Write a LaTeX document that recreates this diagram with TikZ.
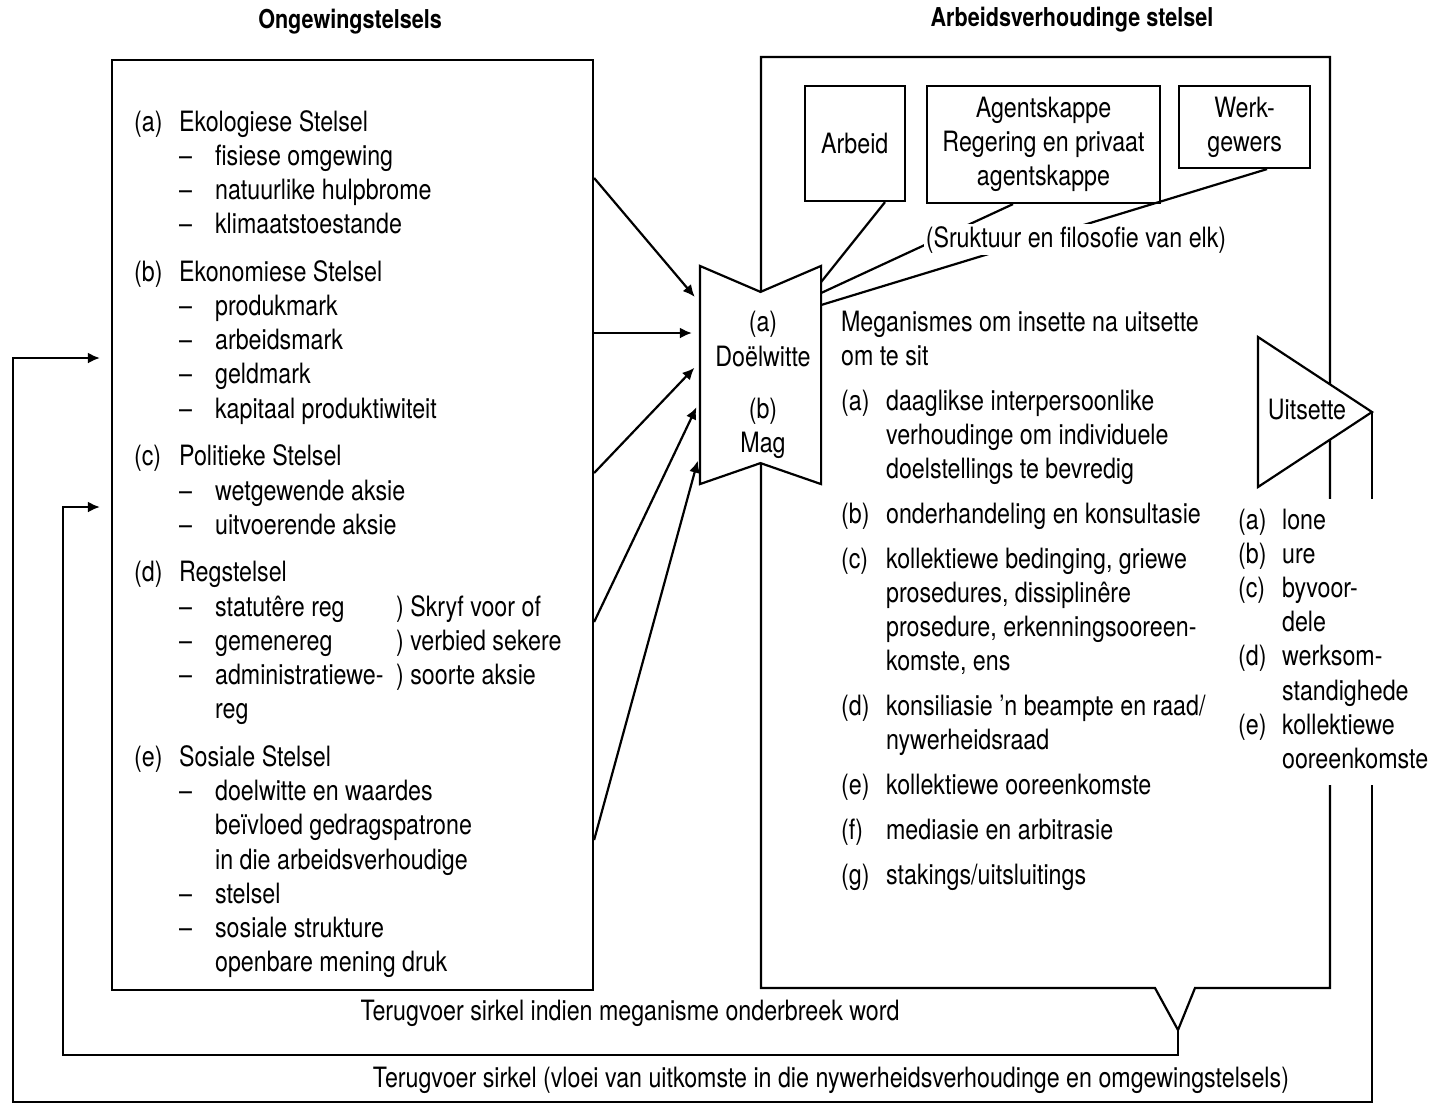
\documentclass[tikz,border=0pt]{standalone}
\usepackage{fontspec}
\setmainfont{TeX Gyre Heros}[FakeStretch=0.83]
\usetikzlibrary{positioning,arrows.meta}

\newcommand{\bodyfont}{\fontsize{14}{17.1}\selectfont}
\newcommand{\headfont}{\fontsize{13}{15}\selectfont\bfseries}

\begin{document}
\begin{tikzpicture}[
		x=0.5pt, y=-0.5pt,
		>={Latex[length=6pt,width=5.5pt]},
		line width=1.1pt,
		box/.style={
			draw,
			inner sep=2pt,
			align=center,
			font=\bodyfont
		},
		txt/.style={inner sep=0pt, align=center, font=\bodyfont},
		list/.style={inner sep=0pt, font=\bodyfont},
		ttl/.style={inner sep=0pt, font=\headfont}
		]
		
		\useasboundingbox (0,0) rectangle (1437,1105);
		
		%--------------------------------------------------
		% Titles
		%--------------------------------------------------
		
		\node[ttl] (envtitle) at (350,22) {Ongewingstelsels};
		\node[ttl] (irtitle) at (1072,20) {Arbeidsverhoudinge stelsel};
		
		%--------------------------------------------------
		% Frames
		%--------------------------------------------------
		
		\node[box, minimum width=240.5pt, minimum height=465pt] (env) at (352.5,525) {};
		
		\draw (761,57) -- (1330,57) -- (1330,988) -- (1195,988)
		-- (1178,1030) coordinate (vtip) -- (1155,988) -- (761,988) -- cycle;
		
		% goals and power
		\node[minimum width=59.5pt, minimum height=108pt, inner sep=0pt] (doel) at (760.5,375) {};
		\draw[fill=white] (doel.north west) -- ([yshift=-13pt]doel.north) -- (doel.north east)
		-- (doel.south east) -- ([yshift=10.5pt]doel.south) -- (doel.south west) -- cycle;
		\node[txt] (goals) at (763,339) {(a)\\Doëlwitte};
		\node[txt] (power) at (763,428) {(b)\\Mag};
		
		% outputs
		\draw[fill=white] (1258,337) -- (1372,412) coordinate (utip) -- (1258,487) -- cycle;
		\node[txt] (uit) at (1307,410) {Uitsette};
		
		%--------------------------------------------------
		% Actors
		%--------------------------------------------------
		
		\node[box, minimum width=116.5pt, minimum height=58.5pt] (agent) at (1043.5,144.5)
		{Agentskappe\\Regering en privaat\\agentskappe};
		
		\node[box, minimum width=50pt, minimum height=57.5pt, left=10pt of agent.north west, anchor=north east] (arbeid)
		{Arbeid};
		
		\node[box, minimum width=65.5pt, minimum height=41pt, right=8.5pt of agent.north east, anchor=north west] (werk)
		{Werk-\\gewers};
		
		\draw (885,0 |- arbeid.south) -- (doel.east |- 0,282);
		\draw (1013,0 |- agent.south) -- (doel.east |- 0,293);
		\draw (1267,0 |- werk.south) -- (doel.east |- 0,305);
		
		\node[txt, fill=white, inner sep=1pt, anchor=base] (philo) at (1076,247)
		{(Sruktuur en filosofie van elk)};
		
		%--------------------------------------------------
		% Environment systems
		%--------------------------------------------------
		
		\node[list, anchor=base west] (eco) at (133,131) {\begin{tabular}[t]{@{}p{22.5pt}@{}p{18pt}@{}l@{}}
				(a) & \multicolumn{2}{@{}l@{}}{Ekologiese Stelsel}\\
				& – & fisiese omgewing\\
				& – & natuurlike hulpbrome\\
				& – & klimaatstoestande
		\end{tabular}};
		
		\node[list, below=5.65pt of eco.south west, anchor=north west] (econ) {\begin{tabular}[t]{@{}p{22.5pt}@{}p{18pt}@{}l@{}}
				(b) & \multicolumn{2}{@{}l@{}}{Ekonomiese Stelsel}\\
				& – & produkmark\\
				& – & arbeidsmark\\
				& – & geldmark\\
				& – & kapitaal produktiwiteit
		\end{tabular}};
		
		\node[list, below=5.65pt of econ.south west, anchor=north west] (pol) {\begin{tabular}[t]{@{}p{22.5pt}@{}p{18pt}@{}l@{}}
				(c) & \multicolumn{2}{@{}l@{}}{Politieke Stelsel}\\
				& – & wetgewende aksie\\
				& – & uitvoerende aksie
		\end{tabular}};
		
		\node[list, below=5.65pt of pol.south west, anchor=north west] (law) {\begin{tabular}[t]{@{}p{22.5pt}@{}p{18pt}@{}l@{}}
				(d) & \multicolumn{2}{@{}l@{}}{Regstelsel}\\
				& – & \makebox[90.5pt][l]{statutêre reg}) Skryf voor of\\
				& – & \makebox[90.5pt][l]{gemenereg}) verbied sekere\\
				& – & \makebox[90.5pt][l]{administratiewe-}) soorte aksie\\
				& & reg
		\end{tabular}};
		
		\node[list, below=5.65pt of law.south west, anchor=north west] (soc) {\begin{tabular}[t]{@{}p{22.5pt}@{}p{18pt}@{}l@{}}
				(e) & \multicolumn{2}{@{}l@{}}{Sosiale Stelsel}\\
				& – & doelwitte en waardes\\
				& & beïvloed gedragspatrone\\
				& & in die arbeidsverhoudige\\
				& – & stelsel\\
				& – & sosiale strukture\\
				& & openbare mening druk
		\end{tabular}};
		
		%--------------------------------------------------
		% Mechanisms
		%--------------------------------------------------
		
		\node[list, anchor=base west] (mech) at (840,331) {\begin{tabular}[t]{@{}p{22.5pt}@{}l@{}}
				\multicolumn{2}{@{}l@{}}{Meganismes om insette na uitsette}\\
				\multicolumn{2}{@{}l@{}}{om te sit}\\[5.3pt]
				(a) & daaglikse interpersoonlike\\
				& verhoudinge om individuele\\
				& doelstellings te bevredig\\[5.3pt]
				(b) & onderhandeling en konsultasie\\[5.3pt]
				(c) & kollektiewe bedinging, griewe\\
				& prosedures, dissiplinêre\\
				& prosedure, erkenningsooreen-\\
				& komste, ens\\[5.3pt]
				(d) & konsiliasie 'n beampte en raad/\\
				& nywerheidsraad\\[5.3pt]
				(e) & kollektiewe ooreenkomste\\[5.3pt]
				(f) & mediasie en arbitrasie\\[5.3pt]
				(g) & stakings/uitsluitings
		\end{tabular}};
		
		%--------------------------------------------------
		% Connections
		%--------------------------------------------------
		
		\draw[->, shorten >=4pt] (env.east |- 0,178) -- (doel.west |- 0,303);
		\draw[->, shorten >=4pt] (env.east |- 0,333) -- (doel.west |- 0,333);
		\draw[->, shorten >=4pt] (env.east |- 0,473) -- (doel.west |- 0,362);
		\draw[->, shorten >=4pt] (env.east |- 0,622) -- (doel.west |- 0,400);
		\draw[->, shorten >=4pt] (env.east |- 0,840) -- (doel.west |- 0,453);
		
		% feedback loops
		\draw[->, shorten >=5.5pt] (utip) |- (13,1102) |- (env.west |- 0,358);
		\draw[->, shorten >=5.5pt] (vtip) |- (63,1055) |- (env.west |- 0,507);
		
		\node[list, fill=white, inner ysep=3pt, anchor=base west] (outs) at (1237,529) {\begin{tabular}[t]{@{}p{22pt}@{}l@{}}
				(a) & lone\\
				(b) & ure\\
				(c) & byvoor-\\
				& dele\\
				(d) & werksom-\\
				& standighede\\
				(e) & kollektiewe\\
				& ooreenkomste
		\end{tabular}};
		
		\node[txt] (fbinner) at (630,1013) {Terugvoer sirkel indien meganisme onderbreek word};
		\node[txt] (fbouter) at (831,1080)
		{Terugvoer sirkel (vloei van uitkomste in die nywerheidsverhoudinge en omgewingstelsels)};
		
	\end{tikzpicture}
\end{document}
